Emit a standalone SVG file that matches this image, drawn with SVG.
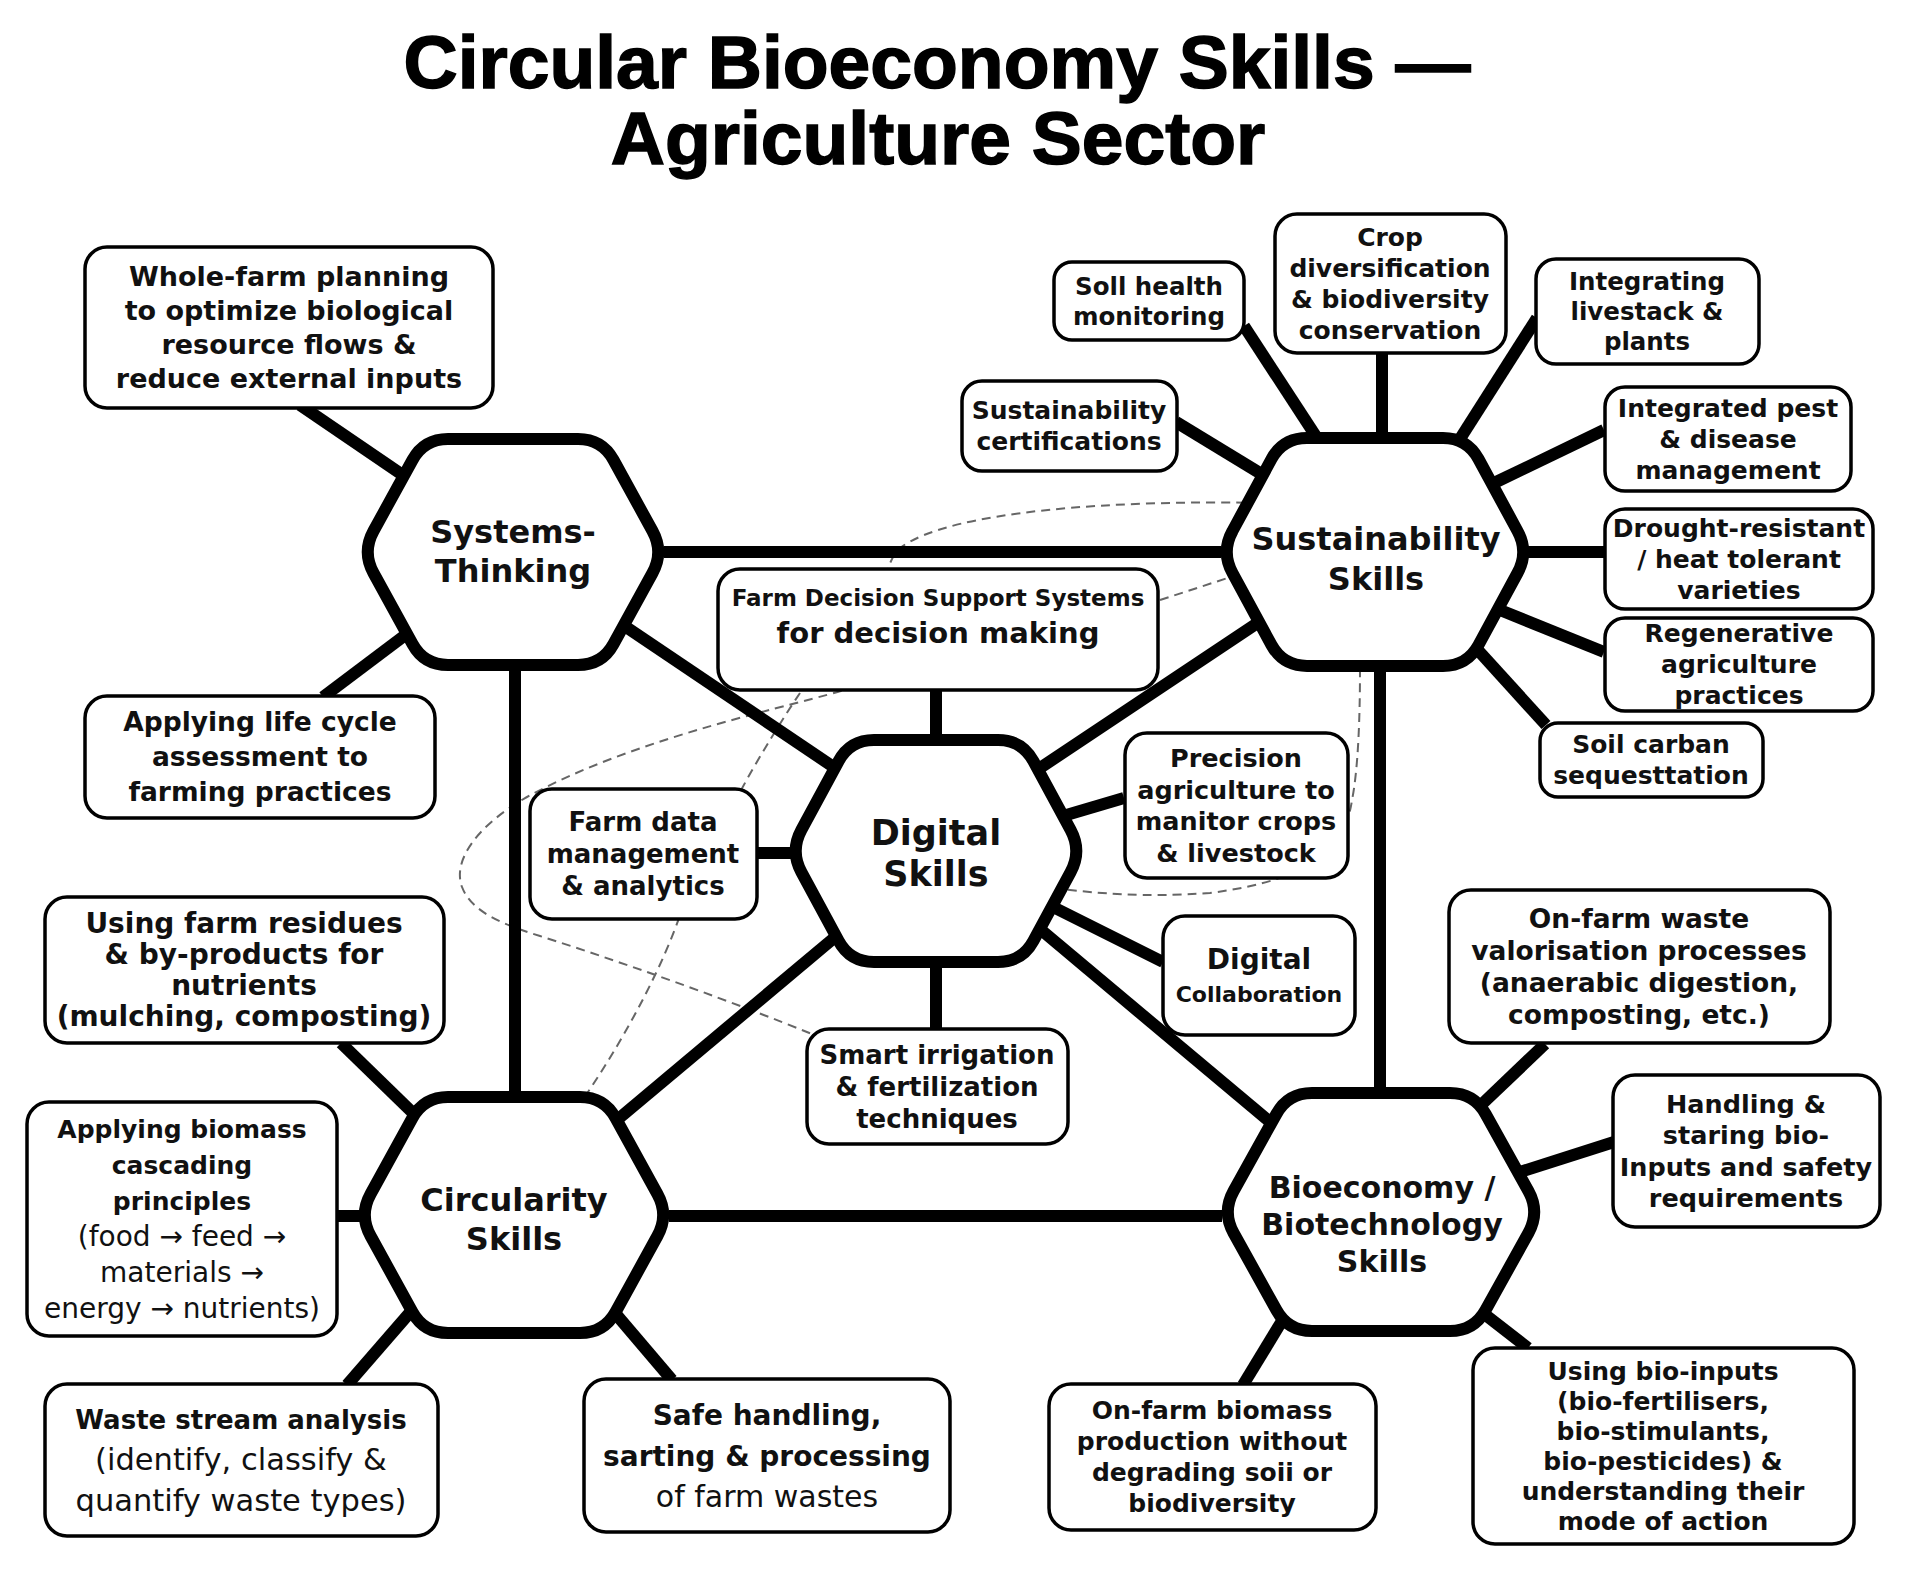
<svg xmlns="http://www.w3.org/2000/svg" width="1909" height="1571" viewBox="0 0 1909 1571">
<style>
.bg{fill:#fff}
.title{font-family:"Liberation Sans",Arial,sans-serif;font-weight:700;font-size:75px;text-anchor:middle;fill:#000;stroke:#000;stroke-width:1.5}
.hex{fill:#fff;stroke:#000;stroke-width:12;stroke-linejoin:round}
.box{fill:#fff;stroke:#000;stroke-width:3.5}
.edge{stroke:#000;stroke-width:12;fill:none}
.dash{stroke:#666;stroke-width:2;stroke-dasharray:9 6;fill:none}
.t{font-family:"DejaVu Sans",sans-serif;font-weight:700;text-anchor:middle;fill:#111}
.r{font-weight:400}
</style>
<rect class="bg" x="0" y="0" width="1909" height="1571"/>
<g id="title">
<text class="title" x="937" y="88">Circular Bioeconomy Skills —</text>
<text class="title" x="938" y="164">Agriculture Sector</text>
</g>
<g id="connectors">
<path class="dash" d="M1260,503 C1120,500 950,510 900,548 C880,565 875,640 850,688 C800,705 640,735 527,797 C478,825 452,860 462,887 C472,913 505,925 540,936 C640,968 740,1005 812,1034"/>
<path class="dash" d="M800,693 C785,715 760,755 740,792 L680,915 C665,960 630,1030 586,1095"/>
<path class="dash" d="M1160,600 L1240,574"/>
<path class="dash" d="M1360,668 C1360,720 1358,770 1352,800 C1345,850 1310,880 1210,893 C1140,898 1100,893 1060,889"/>
<path class="edge" d="M664,552 L1221,552"/>
<path class="edge" d="M515,665 L515,1097"/>
<path class="edge" d="M1380,666 L1380,1093"/>
<path class="edge" d="M669,1216 L1222,1216"/>
<path class="edge" d="M626,627 L838,770"/>
<path class="edge" d="M1262,620 L1037,770"/>
<path class="edge" d="M840,933 L617,1120"/>
<path class="edge" d="M1040,929 L1270,1122"/>
<path class="edge" d="M300,405 L410,480"/>
<path class="edge" d="M323,697 L408,633"/>
<path class="edge" d="M1244,326 L1319,441"/>
<path class="edge" d="M1382,350 L1382,442"/>
<path class="edge" d="M1537,318 L1458,442"/>
<path class="edge" d="M1176,422 L1268,478"/>
<path class="edge" d="M1604,430 L1494,483"/>
<path class="edge" d="M1527,552 L1605,552"/>
<path class="edge" d="M1604,652 L1500,610"/>
<path class="edge" d="M1546,725 L1476,648"/>
<path class="edge" d="M936,689 L936,741"/>
<path class="edge" d="M757,853 L791,853"/>
<path class="edge" d="M1124,798 L1063,816"/>
<path class="edge" d="M1053,907 L1163,962"/>
<path class="edge" d="M936,961 L936,1030"/>
<path class="edge" d="M341,1043 L414,1114"/>
<path class="edge" d="M336,1216 L360,1216"/>
<path class="edge" d="M347,1385 L413,1309"/>
<path class="edge" d="M672,1380 L615,1313"/>
<path class="edge" d="M1545,1044 L1480,1106"/>
<path class="edge" d="M1614,1142 L1520,1172"/>
<path class="edge" d="M1243,1385 L1285,1316"/>
<path class="edge" d="M1528,1348 L1483,1313"/>
</g>
<g id="systems-thinking">
<path class="hex" transform="translate(513,552)" d="M-139.5,-21 L-100.5,-92 Q-89,-113 -65,-113 L65,-113 Q89,-113 100.5,-92 L139.5,-21 Q151,0 139.5,21 L100.5,92 Q89,113 65,113 L-65,113 Q-89,113 -100.5,92 L-139.5,21 Q-151,0 -139.5,-21 Z"/>
<text class="t" font-size="32" x="513" y="543">Systems-</text>
<text class="t" font-size="32" x="513" y="582">Thinking</text>
</g>
<g id="sustainability-skills">
<path class="hex" transform="translate(1375,552)" d="M-142.5,-21 L-103.5,-93 Q-92,-114 -68,-114 L68,-114 Q92,-114 103.5,-93 L142.5,-21 Q154,0 142.5,21 L103.5,93 Q92,114 68,114 L-68,114 Q-92,114 -103.5,93 L-142.5,21 Q-154,0 -142.5,-21 Z"/>
<text class="t" font-size="32" x="1376" y="550">Sustainability</text>
<text class="t" font-size="32" x="1376" y="590">Skills</text>
</g>
<g id="digital-skills">
<path class="hex" transform="translate(936,851)" d="M-134.6,-21.1 L-97.4,-89.9 Q-86,-111 -62,-111 L62,-111 Q86,-111 97.4,-89.9 L134.6,-21.1 Q146,0 134.6,21.1 L97.4,89.9 Q86,111 62,111 L-62,111 Q-86,111 -97.4,89.9 L-134.6,21.1 Q-146,0 -134.6,-21.1 Z"/>
<text class="t" font-size="35" x="936" y="845">Digital</text>
<text class="t" font-size="35" x="936" y="886">Skills</text>
</g>
<g id="circularity-skills">
<path class="hex" transform="translate(514,1215)" d="M-143.4,-21 L-101.6,-97 Q-90,-118 -66,-118 L66,-118 Q90,-118 101.6,-97 L143.4,-21 Q155,0 143.4,21 L101.6,97 Q90,118 66,118 L-66,118 Q-90,118 -101.6,97 L-143.4,21 Q-155,0 -143.4,-21 Z"/>
<text class="t" font-size="32" x="514" y="1211">Circularity</text>
<text class="t" font-size="32" x="514" y="1250">Skills</text>
</g>
<g id="bioeconomy-skills">
<path class="hex" transform="translate(1381,1212)" d="M-147.4,-21 L-104.6,-98 Q-93,-119 -69,-119 L69,-119 Q93,-119 104.6,-98 L147.4,-21 Q159,0 147.4,21 L104.6,98 Q93,119 69,119 L-69,119 Q-93,119 -104.6,98 L-147.4,21 Q-159,0 -147.4,-21 Z"/>
<text class="t" font-size="30" x="1382" y="1198">Bioeconomy /</text>
<text class="t" font-size="30" x="1382" y="1235">Biotechnology</text>
<text class="t" font-size="30" x="1382" y="1272">Skills</text>
</g>
<g id="whole-farm-planning">
<rect class="box" x="85" y="247" width="408" height="161" rx="22"/>
<text class="t" font-size="27" x="289" y="286">Whole-farm planning</text>
<text class="t" font-size="27" x="289" y="320">to optimize biological</text>
<text class="t" font-size="27" x="289" y="354">resource flows &amp;</text>
<text class="t" font-size="27" x="289" y="388">reduce external inputs</text>
</g>
<g id="life-cycle-assessment">
<rect class="box" x="85" y="696" width="350" height="122" rx="22"/>
<text class="t" font-size="26.5" x="260" y="731">Applying life cycle</text>
<text class="t" font-size="26.5" x="260" y="766">assessment to</text>
<text class="t" font-size="26.5" x="260" y="801">farming practices</text>
</g>
<g id="soil-health">
<rect class="box" x="1054" y="262" width="190" height="78" rx="18"/>
<text class="t" font-size="24.5" x="1149" y="295">Soll health</text>
<text class="t" font-size="24.5" x="1149" y="325">monitoring</text>
</g>
<g id="crop-diversification">
<rect class="box" x="1275" y="214" width="231" height="139" rx="22"/>
<text class="t" font-size="25" x="1390" y="246">Crop</text>
<text class="t" font-size="25" x="1390" y="277">diversification</text>
<text class="t" font-size="25" x="1390" y="308">&amp; biodiversity</text>
<text class="t" font-size="25" x="1390" y="339">conservation</text>
</g>
<g id="integrating-livestock">
<rect class="box" x="1536" y="259" width="223" height="105" rx="20"/>
<text class="t" font-size="24.5" x="1647" y="290">Integrating</text>
<text class="t" font-size="24.5" x="1647" y="320">livestack &amp;</text>
<text class="t" font-size="24.5" x="1647" y="350">plants</text>
</g>
<g id="sustainability-certifications">
<rect class="box" x="962" y="381" width="215" height="90" rx="20"/>
<text class="t" font-size="25" x="1069" y="419">Sustainability</text>
<text class="t" font-size="25" x="1069" y="450">certifications</text>
</g>
<g id="integrated-pest">
<rect class="box" x="1605" y="387" width="246" height="104" rx="20"/>
<text class="t" font-size="25" x="1728" y="417">Integrated pest</text>
<text class="t" font-size="25" x="1728" y="448">&amp; disease</text>
<text class="t" font-size="25" x="1728" y="479">management</text>
</g>
<g id="drought-resistant">
<rect class="box" x="1605" y="509" width="268" height="100" rx="20"/>
<text class="t" font-size="25" x="1739" y="537">Drought-resistant</text>
<text class="t" font-size="25" x="1739" y="568">/ heat tolerant</text>
<text class="t" font-size="25" x="1739" y="599">varieties</text>
</g>
<g id="regenerative-agriculture">
<rect class="box" x="1605" y="618" width="268" height="93" rx="20"/>
<text class="t" font-size="25" x="1739" y="642">Regenerative</text>
<text class="t" font-size="25" x="1739" y="673">agriculture</text>
<text class="t" font-size="25" x="1739" y="704">practices</text>
</g>
<g id="soil-carbon">
<rect class="box" x="1540" y="723" width="223" height="74" rx="18"/>
<text class="t" font-size="25" x="1651" y="753">Soil carban</text>
<text class="t" font-size="25" x="1651" y="784">sequesttation</text>
</g>
<g id="farm-decision-support">
<rect class="box" x="718" y="569" width="440" height="121" rx="22"/>
<text class="t" font-size="23" x="938" y="606">Farm Decision Support Systems</text>
<text class="t" font-size="29" x="938" y="643">for decision making</text>
</g>
<g id="farm-data">
<rect class="box" x="530" y="789" width="227" height="130" rx="22"/>
<text class="t" font-size="26" x="643" y="831">Farm data</text>
<text class="t" font-size="26" x="643" y="863">management</text>
<text class="t" font-size="26" x="643" y="895">&amp; analytics</text>
</g>
<g id="precision-agriculture">
<rect class="box" x="1125" y="733" width="223" height="145" rx="22"/>
<text class="t" font-size="25.5" x="1236" y="767">Precision</text>
<text class="t" font-size="25.5" x="1236" y="799">agriculture to</text>
<text class="t" font-size="25.5" x="1236" y="830">manitor crops</text>
<text class="t" font-size="25.5" x="1236" y="862">&amp; livestock</text>
</g>
<g id="digital-collaboration">
<rect class="box" x="1163" y="916" width="192" height="119" rx="22"/>
<text class="t" font-size="28" x="1259" y="969">Digital</text>
<text class="t" font-size="22" x="1259" y="1002">Collaboration</text>
</g>
<g id="smart-irrigation">
<rect class="box" x="807" y="1029" width="261" height="115" rx="22"/>
<text class="t" font-size="26" x="937" y="1064">Smart irrigation</text>
<text class="t" font-size="26" x="937" y="1096">&amp; fertilization</text>
<text class="t" font-size="26" x="937" y="1128">techniques</text>
</g>
<g id="farm-residues">
<rect class="box" x="45" y="897" width="399" height="146" rx="22"/>
<text class="t" font-size="28" x="244" y="933">Using farm residues</text>
<text class="t" font-size="28" x="244" y="964">&amp; by-products for</text>
<text class="t" font-size="28" x="244" y="995">nutrients</text>
<text class="t" font-size="28" x="244" y="1026">(mulching, composting)</text>
</g>
<g id="biomass-cascading">
<rect class="box" x="27" y="1102" width="310" height="234" rx="22"/>
<text class="t" font-size="25" x="182" y="1138">Applying biomass</text>
<text class="t" font-size="25" x="182" y="1174">cascading</text>
<text class="t" font-size="25" x="182" y="1210">principles</text>
<text class="t r" font-size="28" x="182" y="1246">(food → feed →</text>
<text class="t r" font-size="28" x="182" y="1282">materials →</text>
<text class="t r" font-size="28" x="182" y="1318">energy → nutrients)</text>
</g>
<g id="waste-stream-analysis">
<rect class="box" x="45" y="1384" width="393" height="152" rx="22"/>
<text class="t" font-size="26" x="241" y="1429">Waste stream analysis</text>
<text class="t r" font-size="30.5" x="241" y="1470">(identify, classify &amp;</text>
<text class="t r" font-size="30.5" x="241" y="1511">quantify waste types)</text>
</g>
<g id="safe-handling">
<rect class="box" x="584" y="1379" width="366" height="153" rx="22"/>
<text class="t" font-size="28" x="767" y="1425">Safe handling,</text>
<text class="t" font-size="28" x="767" y="1466">sarting &amp; processing</text>
<text class="t r" font-size="30" x="767" y="1507">of farm wastes</text>
</g>
<g id="waste-valorisation">
<rect class="box" x="1449" y="890" width="381" height="153" rx="22"/>
<text class="t" font-size="26.5" x="1639" y="928">On-farm waste</text>
<text class="t" font-size="26.5" x="1639" y="960">valorisation processes</text>
<text class="t" font-size="26.5" x="1639" y="992">(anaerabic digestion,</text>
<text class="t" font-size="26.5" x="1639" y="1024">composting, etc.)</text>
</g>
<g id="handling-bio-inputs">
<rect class="box" x="1613" y="1075" width="267" height="152" rx="22"/>
<text class="t" font-size="25.5" x="1746" y="1113">Handling &amp;</text>
<text class="t" font-size="25.5" x="1746" y="1144">staring bio-</text>
<text class="t" font-size="25.5" x="1746" y="1176">Inputs and safety</text>
<text class="t" font-size="25.5" x="1746" y="1207">requirements</text>
</g>
<g id="biomass-production">
<rect class="box" x="1049" y="1384" width="327" height="146" rx="22"/>
<text class="t" font-size="25" x="1212" y="1419">On-farm biomass</text>
<text class="t" font-size="25" x="1212" y="1450">production without</text>
<text class="t" font-size="25" x="1212" y="1481">degrading soii or</text>
<text class="t" font-size="25" x="1212" y="1512">biodiversity</text>
</g>
<g id="using-bio-inputs">
<rect class="box" x="1473" y="1348" width="381" height="196" rx="22"/>
<text class="t" font-size="25" x="1663" y="1380">Using bio-inputs</text>
<text class="t" font-size="25" x="1663" y="1410">(bio-fertilisers,</text>
<text class="t" font-size="25" x="1663" y="1440">bio-stimulants,</text>
<text class="t" font-size="25" x="1663" y="1470">bio-pesticides) &amp;</text>
<text class="t" font-size="25" x="1663" y="1500">understanding their</text>
<text class="t" font-size="25" x="1663" y="1530">mode of action</text>
</g>
</svg>
